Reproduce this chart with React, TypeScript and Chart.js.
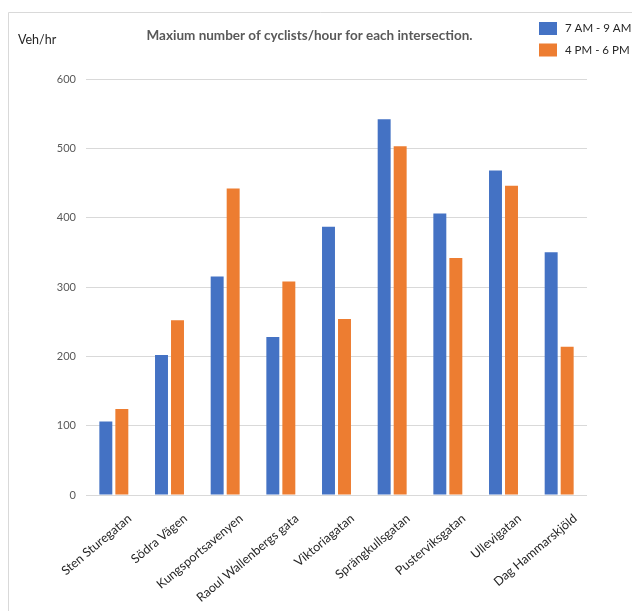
import { useEffect, useRef } from "react";
import { Chart, registerables } from "chart.js";
Chart.register(...registerables);

const categories = [
  "Sten Sturegatan",
  "Södra Vägen",
  "Kungsportsavenyen",
  "Raoul Wallenbergs gata",
  "Viktoriagatan",
  "Sprängkullsgatan",
  "Pusterviksgatan",
  "Ullevigatan",
  "Dag Hammarskjöld",
];
const morningPeak = [106, 202, 315, 228, 387, 542, 406, 468, 350];
const eveningPeak = [124, 252, 442, 308, 254, 503, 342, 446, 214];
const seriesLabels = ["7 AM - 9 AM", "4 PM - 6 PM"];
const seriesColors = ["#4472C4", "#ED7D31"];
const titleText = "Maxium number of cyclists/hour for each intersection.";
const yAxisLabel = "Veh/hr";
const yMax = 600;
const yStep = 100;

const FONT = "Lato, 'Open Sans', sans-serif";

export default function App() {
  const ref = useRef<HTMLCanvasElement | null>(null);
  useEffect(() => {
    if (!ref.current) return;
    const decor = {
      id: "decor",
      afterDraw(chart: any) {
        const ctx = chart.ctx;
        ctx.save();
        // frame
        ctx.strokeStyle = "#d9d9d9";
        ctx.lineWidth = 1;
        ctx.beginPath();
        ctx.moveTo(8.5, 611);
        ctx.lineTo(8.5, 12.5);
        ctx.lineTo(632, 12.5);
        ctx.stroke();
        // title
        ctx.fillStyle = "#595959";
        ctx.font = `bold 13.5px ${FONT}`;
        ctx.textAlign = "center";
        ctx.textBaseline = "middle";
        ctx.fillText(titleText, 309.5, 36);
        // y axis label
        ctx.font = `12.5px ${FONT}`;
        ctx.textAlign = "left";
        ctx.fillStyle = "#262626";
        ctx.fillText(yAxisLabel, 18, 40);
        // legend
        seriesLabels.forEach((lab, i) => {
          const y = 22 + i * 21.5;
          ctx.fillStyle = seriesColors[i];
          ctx.fillRect(539, y, 18, 13);
          ctx.fillStyle = "#262626";
          ctx.font = `11.5px ${FONT}`;
          ctx.textAlign = "left";
          ctx.fillText(lab, 565, y + 6.5);
        });
        ctx.restore();
      },
    };
    const chart = new Chart(ref.current, {
      type: "bar",
      data: {
        labels: categories,
        datasets: [
          {
            label: seriesLabels[0],
            data: morningPeak,
            backgroundColor: seriesColors[0],
            categoryPercentage: 0.575,
            barPercentage: 0.81,
          },
          {
            label: seriesLabels[1],
            data: eveningPeak,
            backgroundColor: seriesColors[1],
            categoryPercentage: 0.575,
            barPercentage: 0.81,
          },
        ],
      },
      options: {
        responsive: false,
        animation: false,
        layout: { padding: { top: 79, right: 45, left: 0, bottom: 0 } },
        plugins: {
          legend: { display: false },
          title: { display: false },
          tooltip: { enabled: false },
        },
        scales: {
          x: {
            grid: { display: false },
            border: { display: false },
            ticks: {
              minRotation: 40,
              maxRotation: 40,
              color: "#262626",
              font: { family: FONT, size: 12.5 },
              padding: 8,
              labelOffset: 16,
            },
            afterFit: (s: any) => {
              s.height = 116;
            },
          },
          y: {
            min: 0,
            max: yMax,
            border: { display: false },
            grid: { color: "#d9d9d9", drawTicks: false },
            ticks: {
              stepSize: yStep,
              color: "#595959",
              font: { family: FONT, size: 11 },
              padding: 10,
            },
            afterFit: (s: any) => {
              s.width = 86;
            },
          },
        },
      },
      plugins: [decor],
    });
    return () => chart.destroy();
  }, []);
  return (
    <div style={{ position: "fixed", left: 0, top: 0, width: 632, height: 611, background: "#fff" }}>
      <canvas ref={ref} width={632} height={611} style={{ display: "block" }} />
    </div>
  );
}
